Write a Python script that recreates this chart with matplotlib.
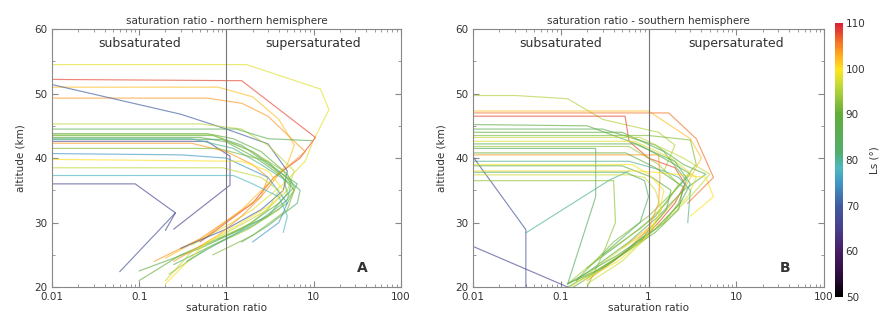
import numpy as np
import matplotlib
matplotlib.use("Agg")
import matplotlib.pyplot as plt
from matplotlib.colors import LinearSegmentedColormap, Normalize
from matplotlib.ticker import LogLocator, MultipleLocator, FixedLocator, NullFormatter

# --- data: solar longitude (Ls) of each profile and its (saturation ratio, altitude) points
ls_north = [98, 108, 102, 104, 70, 96, 88, 85, 90, 82, 65, 104, 75, 92, 78, 66, 68, 96, 86, 100, 94, 80]
sat_north = [
    [0.01, 1.7, 12, 15, 10, 8, 4.5, 2, 1, 0.4],
    [0.01, 1.5, 10.5, 7, 3.5, 2, 1, 0.5],
    [0.01, 0.8, 2, 4, 6, 5, 3, 1.5, 0.6, 0.2],
    [0.01, 0.6, 1.5, 3, 8, 4, 2.5, 1.2, 0.5, 0.15],
    [0.01, 0.3, 1, 3, 5, 4.5, 2.5, 1, 0.3],
    [0.01, 0.5, 1.5, 3, 6, 5, 2, 0.8],
    [0.01, 0.6, 1.2, 2.5, 5, 6, 4, 1.5, 0.5, 0.1],
    [0.01, 0.7, 1.5, 3, 6.5, 5, 2, 0.7, 0.25],
    [0.01, 0.5, 1, 2.2, 4.5, 5, 3, 1, 0.3, 0.1],
    [0.01, 0.9, 2, 4, 7, 6.5, 3, 1.5],
    [0.01, 0.6, 1.1, 1.1, 0.25],
    [0.01, 0.4, 1, 2, 3, 2.5, 1.5, 0.8, 0.25],
    [0.01, 0.3, 1, 3, 5, 4, 2],
    [0.01, 0.8, 3, 6, 5, 2, 0.7],
    [0.01, 1.2, 2, 4, 5, 4.5],
    [0.01, 0.09, 0.26, 0.2],
    [0.26, 0.06],
    [0.01, 0.9, 2.5, 4, 3, 1.2, 0.4, 0.2],
    [0.01, 1.3, 3, 9.5],
    [0.01, 1.5, 3, 4.5, 3.5, 1.5, 0.6, 0.2],
    [0.01, 0.7, 2, 4.5, 6, 4, 1.8, 0.6, 0.22],
    [0.01, 0.4, 1.2, 2.5, 5.5, 5, 2.5, 1, 0.35],
]
alt_north = [
    [54.5, 54.5, 50.7, 47.5, 42.8, 39.5, 36, 32, 29.5, 26.5],
    [52.2, 52, 43.2, 40, 37, 33, 30, 27],
    [51, 51, 49.5, 46, 42, 39, 36, 32, 28, 24.5],
    [49.3, 49.3, 48.5, 46.5, 41, 37.5, 34, 31, 27.5, 24],
    [51.4, 46.8, 44.5, 42.2, 38, 35, 32, 29, 26],
    [45.3, 45.3, 44.5, 42, 38, 35, 30, 27.5],
    [43.8, 43.8, 43, 41, 37.5, 35.5, 33, 29, 26, 22.5],
    [43.5, 43.5, 42, 39, 36, 33, 29.5, 26.5, 23.5],
    [43.2, 43.2, 42.5, 40, 37, 34.5, 31, 28, 25, 21],
    [42.9, 42.9, 41, 38, 35, 33, 29.5, 27],
    [42.6, 42.6, 40.3, 35.8, 29],
    [42.3, 42.3, 41, 39, 37, 34, 31, 28, 24],
    [40.7, 40.5, 40, 37, 33, 30, 27],
    [41.5, 41.5, 39.5, 35, 32, 28, 25],
    [37.3, 37.3, 36, 34, 31, 28.5],
    [36, 36, 31.5, 28.8],
    [31.5, 22.4],
    [38.5, 38.5, 37, 35, 32, 29, 25.5, 21],
    [44.5, 44.5, 43, 42.7],
    [39.8, 39.5, 38, 35, 33, 30, 27, 20.5],
    [43.6, 43.6, 41, 38, 35, 32, 29, 26, 22],
    [43.0, 43.0, 41.5, 39, 36, 33.5, 30.5, 27.5, 24],
]

ls_south = [95, 108, 102, 88, 86, 90, 92, 84, 96, 98, 94, 104, 80, 68, 66, 80, 88, 100, 97, 93, 85, 90, 106, 99, 82]
sat_south = [
    [0.01, 0.031, 0.12, 0.3, 1.3, 2, 1.5],
    [0.01, 0.54, 0.6, 1.0, 2, 2.6, 2, 1.3, 0.8],
    [0.01, 1.0, 3, 4, 2.5, 1.2, 0.5],
    [0.01, 0.2, 0.8, 2, 3, 2, 1.2, 0.5, 0.2],
    [0.01, 0.3, 1.2, 2.5, 4.5, 2.5, 1.3, 0.6, 0.15],
    [0.01, 0.5, 1.5, 2.7, 2.2, 1.5, 0.7, 0.3, 0.12],
    [0.01, 1.0, 3, 3.5, 2, 1, 0.4, 0.15],
    [0.01, 0.25, 0.25, 0.25, 0.12],
    [0.01, 0.8, 2.5, 5, 3, 1.5, 0.6, 0.2],
    [0.01, 0.7, 1.8, 3.5, 2.8, 1.4, 0.5, 0.13],
    [0.01, 0.6, 1.3, 2.2, 1.6, 0.8, 0.3, 0.12],
    [0.01, 1.3, 1.35, 1.3, 1.0, 0.5, 0.2],
    [0.01, 0.6, 1.5, 2.2, 3, 2.8],
    [0.01, 0.04, 0.04],
    [0.01, 0.12],
    [0.04, 0.36, 0.6],
    [0.01, 0.5, 1.1, 1.8, 1.6, 0.9, 0.4, 0.14],
    [0.01, 0.8, 2, 4.5, 5.5, 3],
    [0.01, 0.6, 0.9, 1.2, 1.4, 1.0, 0.5, 0.2],
    [0.01, 0.4, 0.42, 0.3, 0.2],
    [0.01, 0.7, 2, 3, 2.3, 1.2, 0.45, 0.12],
    [0.01, 0.55, 1.2, 2.5, 2.2, 1.2, 0.5, 0.25, 0.12],
    [0.01, 1.7, 3.5, 5.5, 2.8],
    [0.01, 0.65, 1.0, 1.5, 1.3, 0.9, 0.45, 0.18],
    [0.01, 0.55, 0.9, 1.0, 0.8, 0.3],
]
alt_south = [
    [49.7, 49.7, 49.2, 46, 44, 42, 38],
    [46.5, 46.5, 42.6, 40, 38.5, 36, 33, 30, 27],
    [47.3, 47.3, 43, 40, 35, 30, 26],
    [45.2, 45, 42, 39, 37.5, 35, 31, 27, 23],
    [44.5, 44.5, 42, 39, 37.5, 35, 31, 27, 21],
    [44.0, 44.0, 41, 36.5, 33, 30, 26.5, 23, 20],
    [43.5, 43.5, 42.8, 39, 35, 31, 27, 21],
    [41.5, 41.5, 38, 34, 20.5],
    [43.2, 43.2, 40, 37.5, 34, 30, 26, 21.5],
    [42.6, 42.6, 40, 37, 34, 30, 26, 20],
    [41.8, 41.8, 39, 36, 33, 29, 25, 20.5],
    [40.5, 40.5, 37, 33, 29, 25, 21],
    [39.5, 39.5, 38, 37, 35, 30],
    [40.2, 28.9, 20],
    [26.3, 20],
    [28.4, 36.6, 38],
    [38.8, 38.8, 37, 35, 32, 28, 24, 20],
    [38.0, 38.0, 37.5, 37, 34, 31],
    [37.4, 37.4, 37, 35, 32, 28, 24, 20.5],
    [36.5, 36.5, 30, 25, 20],
    [42.2, 42.2, 39.5, 36, 33, 29, 25, 20.5],
    [40.8, 40.8, 38.5, 35.5, 32, 28.5, 25, 22.5, 20.5],
    [47.0, 47.0, 43, 37, 33],
    [39.0, 39.0, 37.5, 35, 31, 27.5, 24, 21],
    [37.8, 37.8, 36.5, 34, 30, 25],
]

ls_min, ls_max = 50, 110
cbar_ticks = [50, 60, 70, 80, 90, 100, 110]
x_ticks = [0.01, 0.1, 1, 10, 100]
x_ticklabels = ["0.01", "0.1", "1", "10", "100"]
y_ticks = [20, 30, 40, 50, 60]

# IDL-like rainbow (black -> purple -> blue -> cyan -> green -> yellow -> red)
cmap = LinearSegmentedColormap.from_list("idl_rainbow", [
    (0.00, (0.0, 0.0, 0.0)),
    (0.08, (0.18, 0.05, 0.25)),
    (0.17, (0.28, 0.12, 0.40)),
    (0.25, (0.28, 0.25, 0.55)),
    (0.33, (0.25, 0.35, 0.62)),
    (0.42, (0.25, 0.60, 0.78)),
    (0.47, (0.30, 0.72, 0.75)),
    (0.53, (0.32, 0.68, 0.42)),
    (0.67, (0.38, 0.68, 0.22)),
    (0.77, (0.75, 0.85, 0.22)),
    (0.83, (1.00, 0.90, 0.12)),
    (0.90, (1.00, 0.60, 0.12)),
    (1.00, (0.85, 0.12, 0.22)),
])
norm = Normalize(ls_min, ls_max)

txt = "#333333"
plt.rcParams["font.family"] = ["DejaVu Sans"]

fig = plt.figure(figsize=(8.83, 3.2), dpi=100)
ax_a = fig.add_axes([0.0589, 0.103, 0.395, 0.806])
ax_b = fig.add_axes([0.5357, 0.103, 0.3975, 0.806])
cax = fig.add_axes([0.9456, 0.072, 0.009, 0.856])


def draw_panel(ax, ls, sats, alts, title, letter):
    for v, s, a in zip(ls, sats, alts):
        ax.plot(s, a, color=cmap(norm(v)), lw=0.85, alpha=0.65)
    ax.axvline(1, color="#777777", lw=0.8)
    ax.set_xscale("log")
    ax.set_xlim(0.01, 100)
    ax.set_ylim(20, 60)
    ax.xaxis.set_major_locator(FixedLocator(x_ticks))
    ax.set_xticklabels(x_ticklabels)
    ax.xaxis.set_minor_locator(LogLocator(base=10, subs=np.arange(2, 10)))
    ax.xaxis.set_minor_formatter(NullFormatter())
    ax.yaxis.set_major_locator(FixedLocator(y_ticks))
    ax.yaxis.set_minor_locator(MultipleLocator(5))
    ax.tick_params(which="both", direction="in", top=True, right=True,
                   colors="#888888", labelcolor=txt, labelsize=7.5)
    ax.tick_params(which="major", length=4)
    ax.tick_params(which="minor", length=2)
    for sp in ax.spines.values():
        sp.set_color("#888888")
        sp.set_linewidth(0.8)
    ax.set_title(title, fontsize=7.5, color=txt, pad=4)
    ax.set_xlabel("saturation ratio", fontsize=7.5, color=txt, labelpad=1)
    ax.set_ylabel("altitude (km)", fontsize=7.5, color=txt, labelpad=6)
    ax.text(0.1, 57.7, "subsaturated", fontsize=9, color=txt, ha="center", va="center")
    ax.text(10, 57.7, "supersaturated", fontsize=9, color=txt, ha="center", va="center")
    ax.text(0.89, 0.074, letter, transform=ax.transAxes, fontsize=10,
            fontweight="bold", color=txt, ha="center", va="center")


draw_panel(ax_a, ls_north, sat_north, alt_north, "saturation ratio - northern hemisphere", "A")
draw_panel(ax_b, ls_south, sat_south, alt_south, "saturation ratio - southern hemisphere", "B")

sm = plt.cm.ScalarMappable(norm=norm, cmap=cmap)
cb = fig.colorbar(sm, cax=cax, ticks=cbar_ticks)
cb.outline.set_visible(False)
cb.ax.tick_params(length=0, labelsize=7.5, labelcolor=txt, pad=2)
cb.set_label("Ls (°)", fontsize=7.5, color=txt, labelpad=3)

fig.savefig("out.png", dpi=100)
